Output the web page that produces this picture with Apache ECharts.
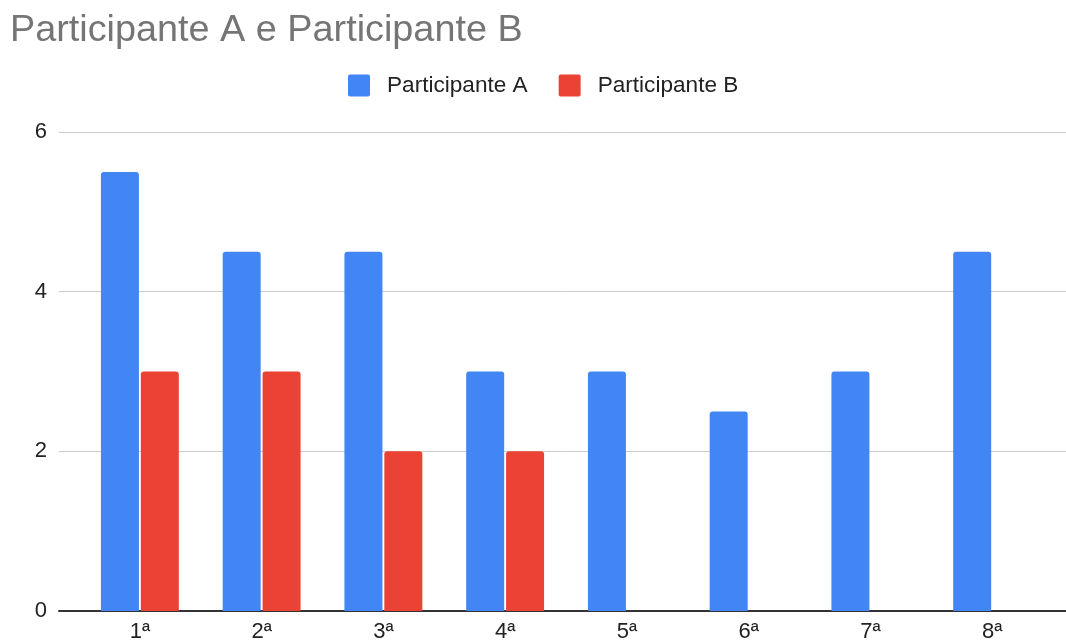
<!DOCTYPE html>
<html>
<head>
<meta charset="utf-8">
<script src="https://cdn.jsdelivr.net/npm/echarts@6/dist/echarts.min.js"></script>
<style>
html,body{margin:0;padding:0;background:#fff;}
#chart{width:1066px;height:641px;}
</style>
</head>
<body>
<div id="chart"></div>
<script>
const categories = ['1ª','2ª','3ª','4ª','5ª','6ª','7ª','8ª'];
const participanteA = [5.5, 4.5, 4.5, 3, 3, 2.5, 3, 4.5];
const participanteB = [3, 3, 2, 2, null, null, null, null];
const yTicks = [0, 2, 4, 6];

const FONT = '"Liberation Sans", Arial, sans-serif';
const ICON = 'path://M2,0 L20,0 Q22,0 22,2 L22,20 Q22,22 20,22 L2,22 Q0,22 0,20 L0,2 Q0,0 2,0 Z';
const chart = echarts.init(document.getElementById('chart'), null, {renderer:'canvas'});
chart.setOption({
  animation: false,
  backgroundColor: '#ffffff',
  title: {
    text: 'Participante A e Participante B',
    left: 5, top: 7,
    textStyle: {fontFamily: FONT, fontSize: 37.8, fontWeight: 'normal', color: '#757575'}
  },
  legend: {
    left: 348, top: 74, padding: 0,
    itemWidth: 22, itemHeight: 22, itemGap: 31,
    icon: ICON,
    textStyle: {fontFamily: FONT, fontSize: 22.6, color: '#222222', padding: [0,0,0,12]},
    data: ['Participante A', 'Participante B']
  },
  grid: [
    {left: 59, right: 0, top: 132, bottom: 30, outerBoundsMode: 'none', containLabel: false},
    {left: 79, right: 13, top: 132, bottom: 30, outerBoundsMode: 'none', containLabel: false}
  ],
  xAxis: [
    {gridIndex: 0, type: 'value', min: 0, max: 1,
     axisLine: {show: true, onZero: false, lineStyle: {color: '#333333', width: 2}},
     axisTick: {show: false}, axisLabel: {show: false}, splitLine: {show: false}},
    {gridIndex: 1, type: 'category', data: categories,
     axisLine: {show: false}, axisTick: {show: false},
     axisLabel: {fontFamily: FONT, fontSize: 22, color: '#222222', margin: 10}}
  ],
  yAxis: [
    {gridIndex: 0, type: 'value', min: yTicks[0], max: yTicks[yTicks.length-1], interval: 2,
     axisLine: {show: false}, axisTick: {show: false},
     axisLabel: {fontFamily: FONT, fontSize: 22, color: '#222222', margin: 12},
     splitLine: {lineStyle: {color: '#cccccc', width: 1}}},
    {gridIndex: 1, type: 'value', min: yTicks[0], max: yTicks[yTicks.length-1], interval: 2,
     show: false, splitLine: {show: false}}
  ],
  series: [
    {name: 'Participante A', type: 'bar', xAxisIndex: 1, yAxisIndex: 1,
     data: participanteA, barWidth: 38, barGap: '5%',
     itemStyle: {color: '#4285f4', borderRadius: [3,3,0,0]}},
    {name: 'Participante B', type: 'bar', xAxisIndex: 1, yAxisIndex: 1,
     data: participanteB, barWidth: 38, barGap: '5%',
     itemStyle: {color: '#ea4335', borderRadius: [3,3,0,0]}}
  ]
});
</script>
</body>
</html>
